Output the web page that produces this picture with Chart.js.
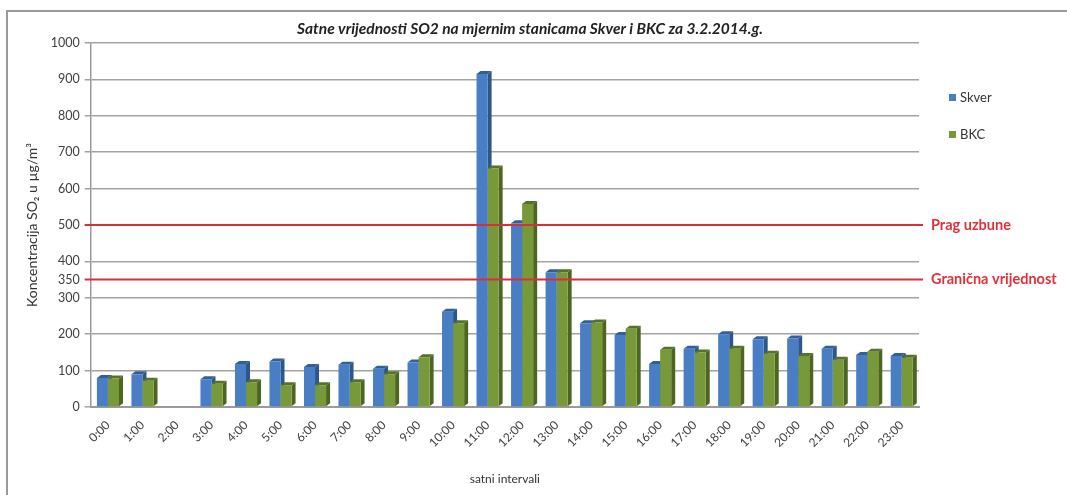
<!DOCTYPE html>
<html>
<head>
<meta charset="utf-8">
<script src="https://cdn.jsdelivr.net/npm/chart.js@4.4.0/dist/chart.umd.min.js"></script>
<style>
  html, body { margin: 0; padding: 0; background: #fff; }
</style>
</head>
<body>
<canvas id="so2Chart" width="1067" height="495"></canvas>
<script>
// hourly values (µg/m3), 2:00 has no data
var hours = ["0:00", "1:00", "2:00", "3:00", "4:00", "5:00", "6:00", "7:00", "8:00", "9:00", "10:00", "11:00",
	"12:00", "13:00", "14:00", "15:00", "16:00", "17:00", "18:00", "19:00", "20:00", "21:00", "22:00", "23:00"];
var skver = [80, 90, null, 76, 118, 125, 110, 116, 105, 122, 262, 915, 505, 370, 230, 198, 118, 160, 200, 186, 188, 160, 143, 140];
var bkc = [78, 72, null, 64, 68, 60, 60, 68, 90, 137, 230, 655, 558, 370, 232, 215, 157, 150, 160, 146, 140, 130, 152, 135];
var yTickValues = [0, 100, 200, 300, 350, 400, 500, 600, 700, 800, 900, 1000];
var limitValues = [500, 350];
var limitLabels = ["Prag uzbune", "Granična vrijednost"];

Chart.defaults.font.family = 'Lato, "Open Sans", sans-serif';
Chart.defaults.color = "#333";

// outer frame (only top and left edges are visible in the original)
var framePlugin = {
	id: "frame",
	beforeDraw: function (chart) {
		var ctx = chart.ctx;
		ctx.save();
		ctx.fillStyle = "#fff";
		ctx.fillRect(0, 0, chart.width, chart.height);
		ctx.strokeStyle = "#999";
		ctx.lineWidth = 2;
		ctx.beginPath();
		ctx.moveTo(7, chart.height);
		ctx.lineTo(7, 11);
		ctx.lineTo(chart.width, 11);
		ctx.stroke();
		ctx.restore();
	}
};

// fake 3d side and top faces of the columns
var depthPlugin = {
	id: "depth",
	beforeDatasetsDraw: function (chart) {
		var ctx = chart.ctx;
		ctx.save();
		chart.data.datasets.forEach(function (ds, i) {
			var meta = chart.getDatasetMeta(i);
			meta.data.forEach(function (bar, j) {
				if (ds.data[j] == null) return;
				var p = bar.getProps(["x", "y", "base", "width"], true);
				var l = p.x - p.width / 2, r = p.x + p.width / 2, d = 4, h = 3;
				ctx.fillStyle = ds.sideColor;
				ctx.beginPath();
				ctx.moveTo(r, p.y);
				ctx.lineTo(r + d, p.y - h);
				ctx.lineTo(r + d, p.base - h);
				ctx.lineTo(r, p.base);
				ctx.closePath();
				ctx.fill();
				ctx.fillStyle = ds.topColor;
				ctx.beginPath();
				ctx.moveTo(l, p.y);
				ctx.lineTo(l + d, p.y - h);
				ctx.lineTo(r + d, p.y - h);
				ctx.lineTo(r, p.y);
				ctx.closePath();
				ctx.fill();
			});
		});
		ctx.restore();
	}
};

// red limit lines with their labels
var limitPlugin = {
	id: "limits",
	afterDatasetsDraw: function (chart) {
		var ctx = chart.ctx, area = chart.chartArea, y = chart.scales.y;
		ctx.save();
		limitValues.forEach(function (v, i) {
			var py = y.getPixelForValue(v);
			ctx.strokeStyle = "#d7303a";
			ctx.lineWidth = 2;
			ctx.beginPath();
			ctx.moveTo(area.left - 6, py);
			ctx.lineTo(area.right + 4, py);
			ctx.stroke();
			ctx.fillStyle = "#e0313b";
			ctx.font = "bold 14.5px Lato, 'Open Sans', sans-serif";
			ctx.textBaseline = "middle";
			ctx.textAlign = "left";
			ctx.fillText(limitLabels[i], area.right + 12, py);
		});
		ctx.restore();
	}
};

// legend on the right side
var legendPlugin = {
	id: "sideLegend",
	afterDraw: function (chart) {
		var ctx = chart.ctx;
		ctx.save();
		ctx.font = "13px Lato, 'Open Sans', sans-serif";
		ctx.textBaseline = "middle";
		ctx.textAlign = "left";
		chart.data.datasets.forEach(function (ds, i) {
			var ly = 98 + i * 37;
			ctx.fillStyle = ds.backgroundColor;
			ctx.fillRect(949, ly - 4, 7, 7);
			ctx.fillStyle = "#333";
			ctx.fillText(ds.label, 960, ly);
		});
		ctx.restore();
	}
};

new Chart(document.getElementById("so2Chart"), {
	type: "bar",
	data: {
		labels: hours,
		datasets: [
			{
				label: "Skver",
				data: skver,
				backgroundColor: "#4a7ec4",
				sideColor: "#2d5689",
				topColor: "#335f98"
			},
			{
				label: "BKC",
				data: bkc,
				backgroundColor: "#77993a",
				sideColor: "#4c6622",
				topColor: "#56722a"
			}
		]
	},
	options: {
		responsive: false,
		animation: false,
		devicePixelRatio: 1,
		layout: { padding: { left: 0, right: 7, top: 0, bottom: 0 } },
		datasets: {
			bar: { categoryPercentage: 0.64, barPercentage: 1.0 }
		},
		plugins: {
			legend: { display: false },
			tooltip: { enabled: false },
			title: {
				display: true,
				text: "Satne vrijednosti SO2 na mjernim stanicama Skver i BKC za 3.2.2014.g.",
				font: { size: 15.5, weight: "bold", style: "italic" },
				color: "#222",
				padding: { top: 20, bottom: 4.4 }
			}
		},
		scales: {
			x: {
				grid: { display: false },
				border: { color: "#9a9a9a", width: 2 },
				ticks: { maxRotation: 45, minRotation: 45, font: { size: 12 }, color: "#404040", autoSkip: false },
				title: {
					display: true,
					text: "satni intervali",
					font: { size: 12 },
					color: "#333",
					padding: { top: 0, bottom: 9 }
				},
				afterFit: function (scale) { scale.height = 88; }
			},
			y: {
				min: 0,
				max: 1000,
				afterBuildTicks: function (scale) {
					scale.ticks = yTickValues.map(function (v) { return { value: v }; });
				},
				grid: {
					color: function (c) { return c.tick && c.tick.value === 350 ? "rgba(0,0,0,0)" : "#a3a3a3"; },
					lineWidth: 1.5,
					tickLength: 6
				},
				border: { color: "#9a9a9a", width: 1.5 },
				ticks: {
					autoSkip: false,
					padding: 5,
					font: { size: 12.5 },
					color: "#404040",
					callback: function (v) { return String(v); }
				},
				title: {
					display: true,
					text: "Koncentracija SO₂ u µg/m³",
					font: { size: 14 },
					color: "#333",
					padding: { top: 24, bottom: 0 }
				},
				afterFit: function (scale) { scale.width = 90.7; }
			},
			// empty right-hand space for the legend and the limit labels
			side: {
				position: "right",
				grid: { display: false },
				border: { display: false },
				ticks: { display: false },
				afterFit: function (scale) { scale.width = 141; }
			}
		}
	},
	plugins: [framePlugin, depthPlugin, limitPlugin, legendPlugin]
});
</script>
</body>
</html>
